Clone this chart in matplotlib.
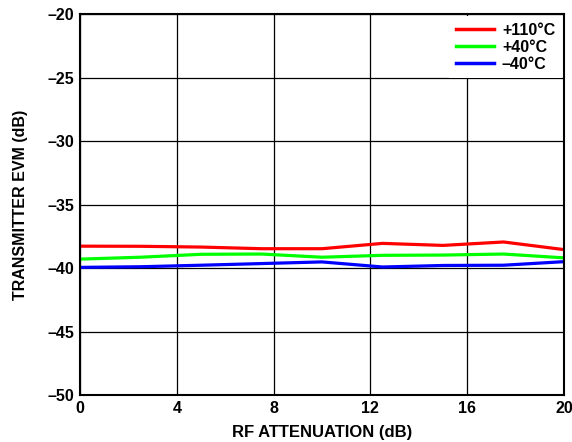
import matplotlib
matplotlib.use("Agg")
import matplotlib.pyplot as plt

# RF attenuation (dB) sample points
atten = [0, 2.5, 5, 7.5, 10, 12.5, 15, 17.5, 20]

# transmitter EVM (dB) per temperature
evm_110 = [-38.28, -38.29, -38.35, -38.48, -38.48, -38.06, -38.22, -37.95, -38.55]
evm_40 = [-39.30, -39.15, -38.92, -38.90, -39.15, -39.00, -38.98, -38.90, -39.20]
evm_m40 = [-39.95, -39.90, -39.78, -39.65, -39.52, -39.92, -39.80, -39.78, -39.50]

labels = ["+110°C", "+40°C", "\u201340°C"]
colors = ["#ff0000", "#00ff00", "#0000ff"]

x_ticks = [0, 4, 8, 12, 16, 20]
y_ticks = [-50, -45, -40, -35, -30, -25, -20]

plt.rcParams["font.family"] = ["Liberation Sans", "DejaVu Sans"]
plt.rcParams["font.weight"] = "bold"

fig = plt.figure(figsize=(5.72, 4.42), dpi=100)
ax = fig.add_axes([0.14, 0.1063, 0.846, 0.8620])

for ys, lab, col in zip([evm_110, evm_40, evm_m40], labels, colors):
    ax.plot(atten, ys, color=col, linewidth=2.3, label=lab, solid_joinstyle="round")

ax.set_xlim(0, 20)
ax.set_ylim(-50, -20)
ax.set_xticks(x_ticks)
ax.set_yticks(y_ticks)
ax.set_xticklabels([str(v) for v in x_ticks])
ax.set_yticklabels([("\u2013" + str(-v)) for v in y_ticks])
ax.tick_params(length=0, labelsize=11.5, pad=4)
ax.grid(True, color="black", linewidth=0.9)
ax.set_axisbelow(True)
for s in ax.spines.values():
    s.set_linewidth(1.5)

ax.set_xlabel("RF ATTENUATION (dB)", fontsize=12, fontweight="bold", labelpad=7)
ax.set_ylabel("TRANSMITTER EVM (dB)", fontsize=11.5, fontweight="bold", labelpad=14)

leg = ax.legend(loc="upper right", frameon=True, fancybox=False, framealpha=1,
                edgecolor="none", fontsize=11.5, handlelength=2.4,
                handletextpad=0.5, labelspacing=0.12, borderpad=0.4,
                borderaxespad=0.15)
for t in leg.get_texts():
    t.set_fontweight("bold")
for h in leg.get_lines():
    h.set_linewidth(2.5)

fig.savefig("out.png", dpi=100)
